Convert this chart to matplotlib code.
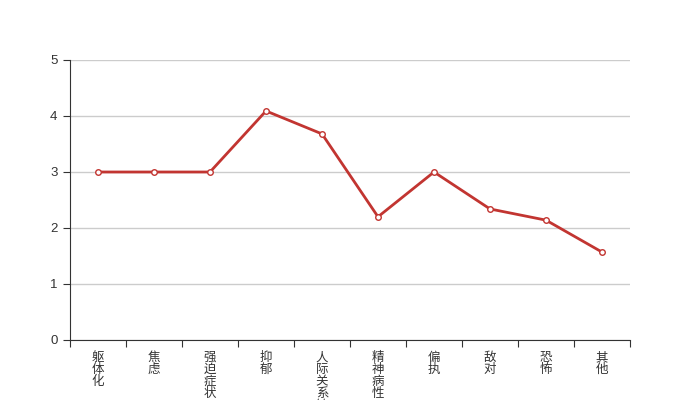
import matplotlib
matplotlib.use("Agg")
from matplotlib import pyplot as plt

plt.rcParams['font.family'] = ['Noto Sans CJK SC', 'DejaVu Sans']

categories = ['躯体化', '焦虑', '强迫症状', '抑郁', '人际关系敏感', '精神病性', '偏执', '敌对', '恐怖', '其他']
scores = [3.0, 3.0, 3.0, 4.09, 3.68, 2.2, 3.0, 2.34, 2.14, 1.57]
yticks = [0, 1, 2, 3, 4, 5]

fig = plt.figure(figsize=(7, 4), dpi=100)
ax = fig.add_axes([0.1, 0.15, 0.8, 0.7])

x = list(range(len(categories)))
ax.plot(x, scores, color='#c23531', linewidth=2, marker='o', markersize=4,
        markerfacecolor='white', markeredgecolor='#c23531', markeredgewidth=1, zorder=3)

ax.set_xlim(-0.5, len(categories) - 0.5)
ax.set_ylim(0, 5)
ax.set_yticks(yticks)
ax.set_yticklabels([str(v) for v in yticks], family=['Liberation Sans', 'DejaVu Sans'])
ax.grid(axis='y', color='#cccccc', linewidth=1)
ax.set_axisbelow(True)

# category boundaries get the ticks, names sit in between
ax.set_xticks([i - 0.5 for i in range(len(categories) + 1)])
ax.set_xticklabels([])
ax.set_xticks(x, minor=True)
ax.set_xticklabels(['\n'.join(c) for c in categories], minor=True, linespacing=0.9)
ax.tick_params(axis='x', which='major', length=5, color='#333333', direction='out')
ax.tick_params(axis='x', which='minor', length=0, pad=8, labelsize=9, labelcolor='#333333')
ax.tick_params(axis='y', length=5, color='#333333', labelsize=9.5, labelcolor='#333333', pad=4)

for side in ['top', 'right']:
    ax.spines[side].set_visible(False)
ax.spines['left'].set_color('#333333')
ax.spines['bottom'].set_color('#333333')

fig.savefig('out.png')
